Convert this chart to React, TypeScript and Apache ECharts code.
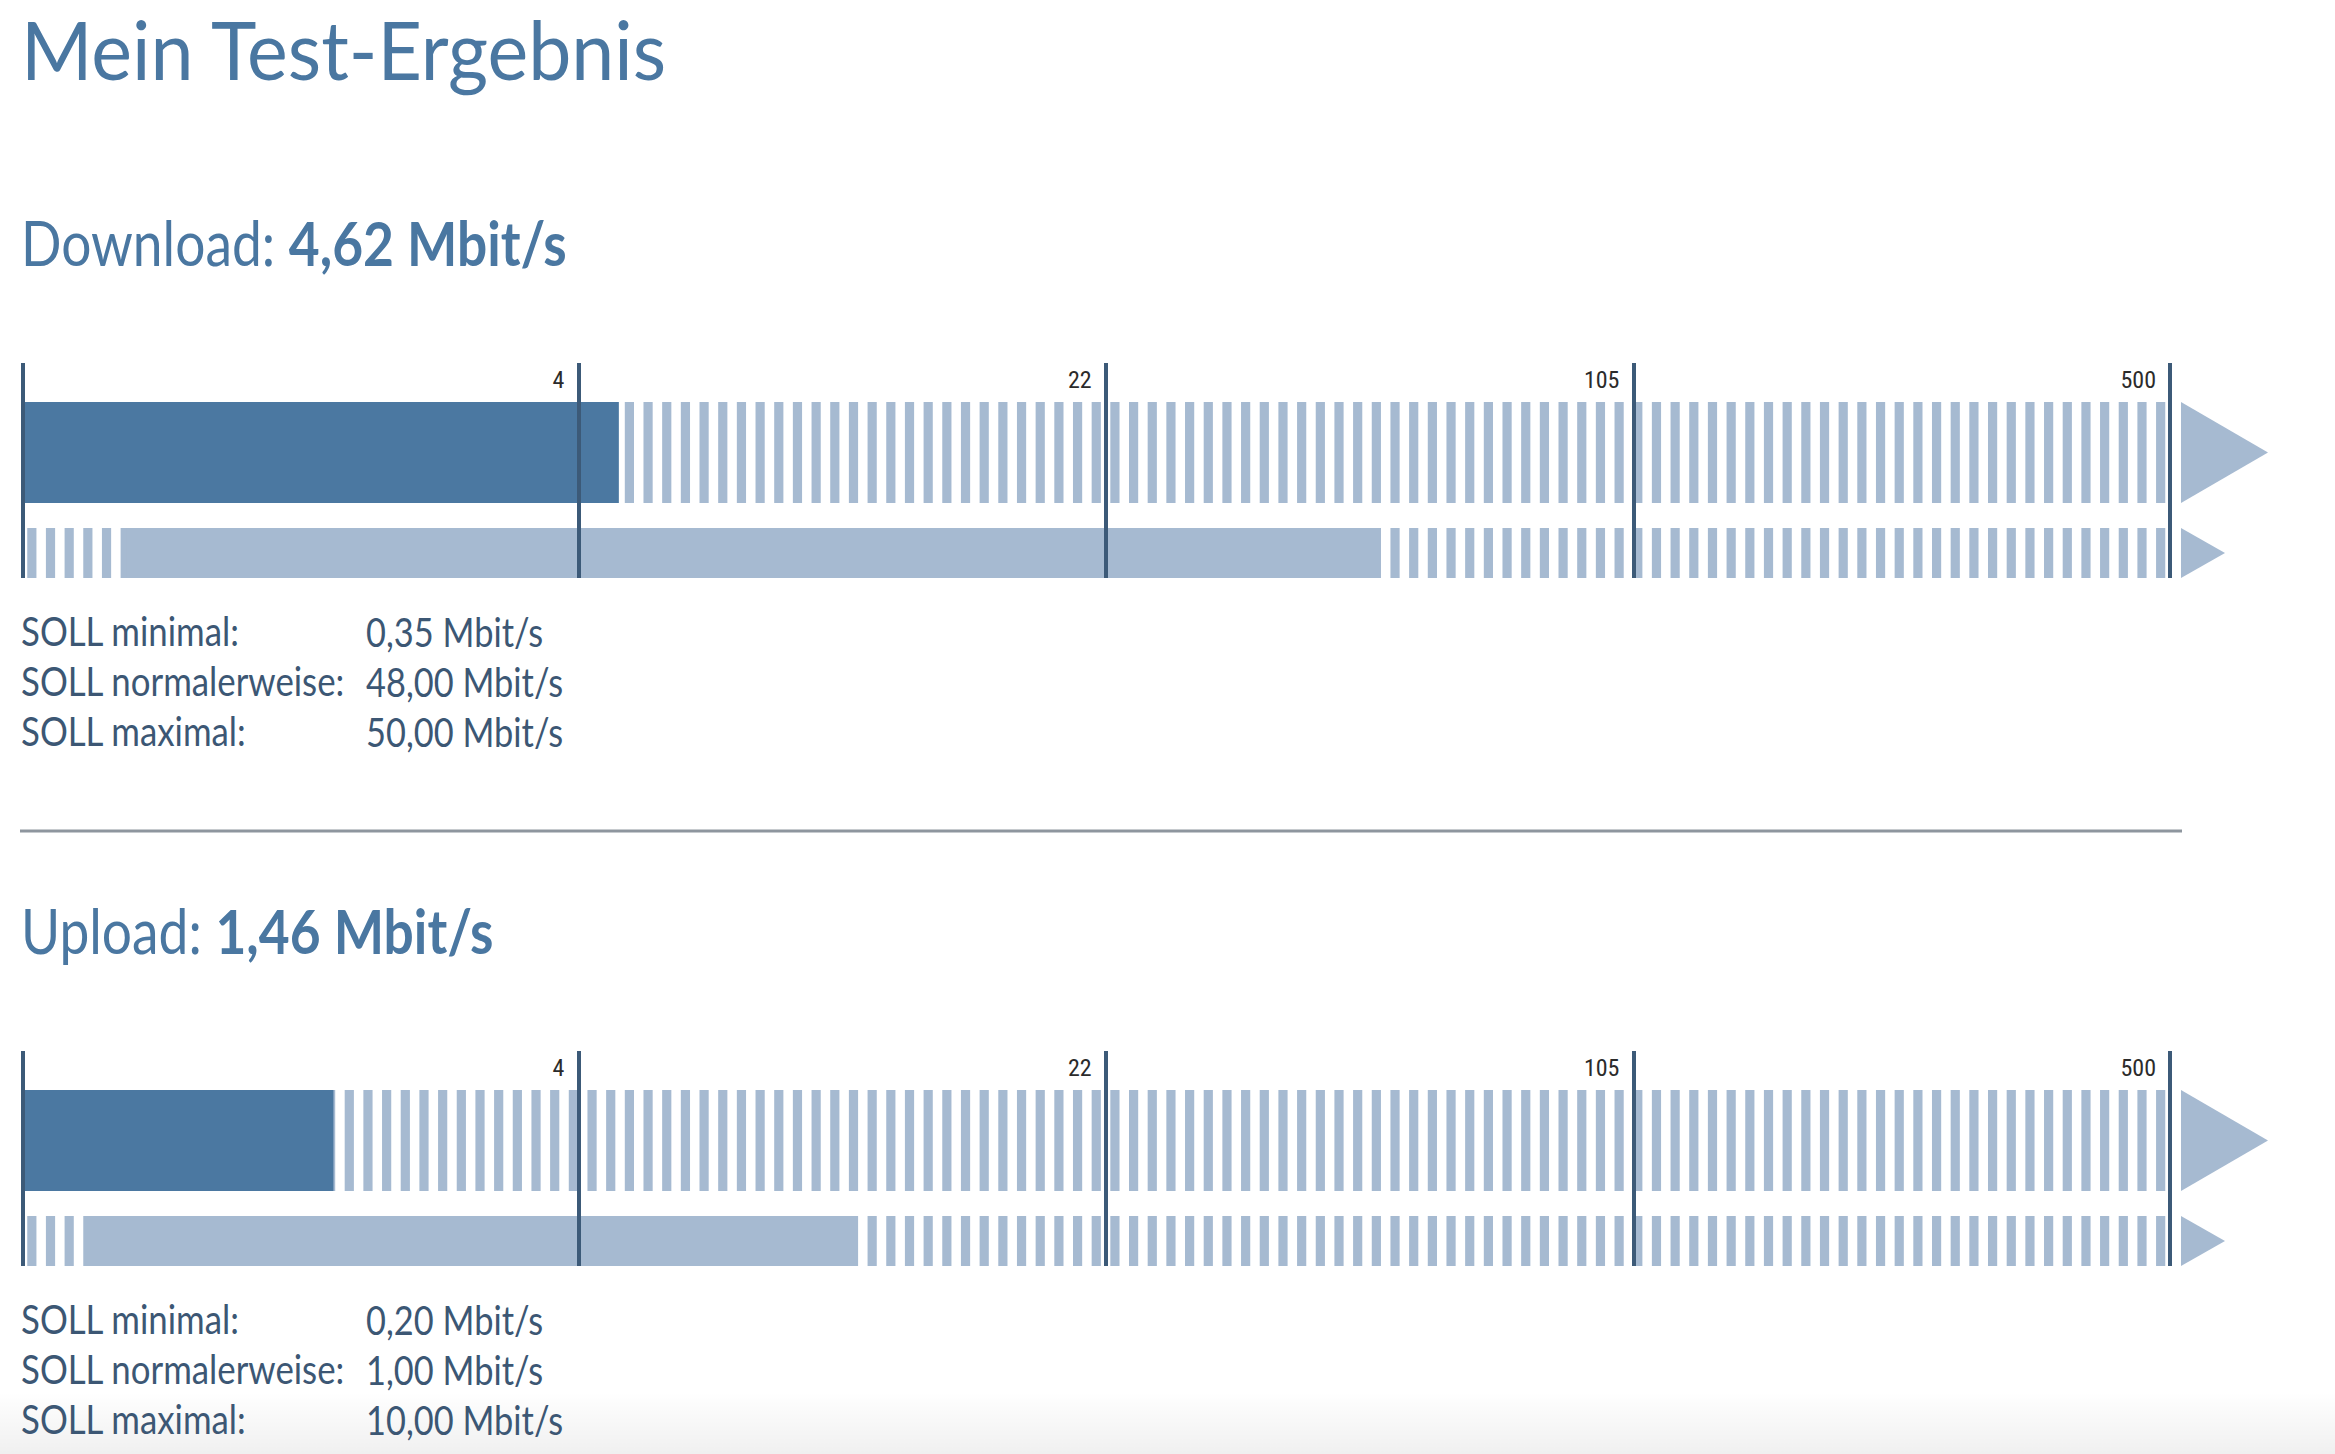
import React, { useEffect, useRef } from 'react';
import * as echarts from 'echarts';

// ---- data ----
const pageTitle = 'Mein Test-Ergebnis';
const sectionNames = ['Download', 'Upload'];
const measuredValues = [4.62, 1.46];
const sollMinimal = [0.35, 0.2];
const sollNormal = [48.0, 1.0];
const sollMaximal = [50.0, 10.0];
const tickValues = [4, 22, 105, 500];
const sollLabels = ['SOLL minimal:', 'SOLL normalerweise:', 'SOLL maximal:'];
const stripeCount = 115;

// ---- helpers ----
const scaleMax = tickValues[tickValues.length - 1];
const t = (v: number) => Math.log10(1 + v);
const fmt = (v: number) => v.toFixed(2).replace('.', ',') + ' Mbit/s';
const labelFor = (v: number) => {
  const hit = tickValues.find((tv) => Math.abs(t(tv) - v) < 1e-6);
  return hit === undefined ? '' : String(hit);
};

const W = 2335;
const H = 1454;
const AXIS_LEFT = 22.5;
const AXIS_WIDTH = 2147.5;
const SECTION_OFFSET = 688;
const DARK = '#4b78a1';
const LIGHT = '#a6bad1';
const TICK = '#3c5a78';
const HEAD = '#4a77a1';
const BODY = '#3c5774';
const FONT = 'Lato, "Open Sans", sans-serif';
const NARROW = '"Liberation Sans Narrow", "Roboto Condensed", Roboto, sans-serif';

function buildOption() {
  const grids: any[] = [];
  const xAxes: any[] = [];
  const yAxes: any[] = [];
  const series: any[] = [];
  const graphics: any[] = [];

  graphics.push({
    type: 'rect',
    z: 0,
    shape: { x: 0, y: 1392, width: W, height: H - 1392 },
    style: {
      fill: new echarts.graphic.LinearGradient(0, 0, 0, 1, [
        { offset: 0, color: 'rgba(0,0,0,0)' },
        { offset: 1, color: 'rgba(0,0,0,0.06)' },
      ]),
    },
    silent: true,
  });

  graphics.push({
    type: 'text',
    x: 21,
    y: 48,
    scaleX: 0.94,
    z: 10,
    style: {
      text: pageTitle,
      fontSize: 82,
      lineHeight: 82,
      fontFamily: FONT,
      fill: HEAD,
      verticalAlign: 'middle',
    },
  });

  sectionNames.forEach((name, s) => {
    const off = s * SECTION_OFFSET;
    const g = s * 3;
    grids.push({ left: AXIS_LEFT, width: AXIS_WIDTH, top: 363 + off, height: 215 });
    grids.push({ left: AXIS_LEFT, width: AXIS_WIDTH, top: 402 + off, height: 101 });
    grids.push({ left: AXIS_LEFT, width: AXIS_WIDTH, top: 528 + off, height: 50 });

    xAxes.push({
      gridIndex: g,
      type: 'value',
      position: 'top',
      min: 0,
      max: t(scaleMax),
      z: 10,
      axisLine: { show: false, onZero: false },
      splitLine: { show: false },
      axisTick: {
        show: true,
        inside: true,
        length: 215,
        customValues: [0, ...tickValues.map(t)],
        lineStyle: { color: TICK, width: 4 },
      },
      axisLabel: {
        show: true,
        inside: true,
        customValues: tickValues.map(t),
        formatter: (v: number) => labelFor(v),
        align: 'right',
        verticalAlign: 'top',
        padding: [0, 14, 0, 0],
        margin: 5,
        fontSize: 24,
        color: '#2b2b2b',
        fontFamily: NARROW,
        showMinLabel: true,
        showMaxLabel: true,
      },
    });
    yAxes.push({ gridIndex: g, type: 'value', show: false, min: 0, max: 1 });

    for (let r = 1; r <= 2; r++) {
      xAxes.push({ gridIndex: g + r, type: 'value', show: false, min: 0, max: t(scaleMax) });
      yAxes.push({ gridIndex: g + r, type: 'category', show: false, data: [name] });
    }

    // top row: measured value
    const a1 = g + 1;
    series.push({
      type: 'pictorialBar',
      xAxisIndex: a1,
      yAxisIndex: a1,
      data: [t(scaleMax)],
      symbol: 'rect',
      symbolRepeat: stripeCount,
      symbolMargin: '1!',
      symbolSize: [9, '100%'],
      barWidth: '100%',
      itemStyle: { color: LIGHT },
      z: 1,
      silent: true,
    });
    series.push({
      type: 'bar',
      xAxisIndex: a1,
      yAxisIndex: a1,
      data: [t(measuredValues[s])],
      barWidth: '100%',
      itemStyle: { color: DARK },
      z: 3,
      silent: true,
    });
    series.push({
      type: 'scatter',
      xAxisIndex: a1,
      yAxisIndex: a1,
      data: [[t(scaleMax), 0]],
      symbol: 'triangle',
      symbolRotate: -90,
      symbolSize: [101, 87],
      symbolOffset: [54.5, 0],
      itemStyle: { color: LIGHT, opacity: 1 },
      clip: false,
      silent: true,
    });

    // bottom row: SOLL range
    const a2 = g + 2;
    series.push({
      type: 'pictorialBar',
      xAxisIndex: a2,
      yAxisIndex: a2,
      data: [t(scaleMax)],
      symbol: 'rect',
      symbolRepeat: stripeCount,
      symbolMargin: '1!',
      symbolSize: [9, '100%'],
      barWidth: '100%',
      itemStyle: { color: LIGHT },
      z: 1,
      silent: true,
    });
    series.push({
      type: 'bar',
      xAxisIndex: a2,
      yAxisIndex: a2,
      stack: 'soll' + s,
      data: [t(sollMinimal[s])],
      barWidth: '100%',
      itemStyle: { color: 'rgba(0,0,0,0)' },
      z: 3,
      silent: true,
    });
    series.push({
      type: 'bar',
      xAxisIndex: a2,
      yAxisIndex: a2,
      stack: 'soll' + s,
      data: [t(sollMaximal[s]) - t(sollMinimal[s])],
      barWidth: '100%',
      itemStyle: { color: LIGHT },
      z: 3,
      silent: true,
    });
    series.push({
      type: 'scatter',
      xAxisIndex: a2,
      yAxisIndex: a2,
      data: [[t(scaleMax), 0]],
      symbol: 'triangle',
      symbolRotate: -90,
      symbolSize: [50, 44],
      symbolOffset: [33, 0],
      itemStyle: { color: LIGHT, opacity: 1 },
      clip: false,
      silent: true,
    });

    // heading
    graphics.push({
      type: 'text',
      x: 21,
      y: 241.5 + off,
      scaleX: 0.86,
      z: 10,
      style: {
        text: `{r|${name}: }{b|${fmt(measuredValues[s])}}`,
        verticalAlign: 'middle',
        rich: {
          r: { fontSize: 62, lineHeight: 66, fontFamily: FONT, fill: HEAD, fontWeight: 'normal' },
          b: { fontSize: 62, lineHeight: 66, fontFamily: FONT, fill: HEAD, fontWeight: 'bold' },
        },
      },
    });

    // SOLL table
    const vals = [sollMinimal[s], sollNormal[s], sollMaximal[s]];
    sollLabels.forEach((lab, i) => {
      const y = 631 + i * 50 + off;
      graphics.push({
        type: 'text',
        x: 21,
        y,
        scaleX: 0.87,
        z: 10,
        style: { text: lab, fontSize: 40, fontFamily: FONT, fill: BODY, verticalAlign: 'middle' },
      });
      graphics.push({
        type: 'text',
        x: 366,
        y,
        scaleX: 0.86,
        z: 10,
        style: { text: fmt(vals[i]), fontSize: 40, fontFamily: FONT, fill: BODY, verticalAlign: 'middle' },
      });
    });
  });

  graphics.push({
    type: 'line',
    z: 5,
    shape: { x1: 20, y1: 831, x2: 2182, y2: 831 },
    style: { stroke: '#8e969e', lineWidth: 3 },
    silent: true,
  });

  return {
    animation: false,
    backgroundColor: '#ffffff',
    grid: grids,
    xAxis: xAxes,
    yAxis: yAxes,
    series,
    graphic: graphics,
  };
}

export default function App() {
  const ref = useRef<HTMLDivElement | null>(null);
  useEffect(() => {
    if (!ref.current) return;
    const chart = echarts.init(ref.current, undefined, { renderer: 'svg' });
    chart.setOption(buildOption() as any);
    return () => chart.dispose();
  }, []);
  return (
    <div
      ref={ref}
      style={{ position: 'absolute', left: 0, top: 0, width: W, height: H, background: '#fff' }}
    />
  );
}
